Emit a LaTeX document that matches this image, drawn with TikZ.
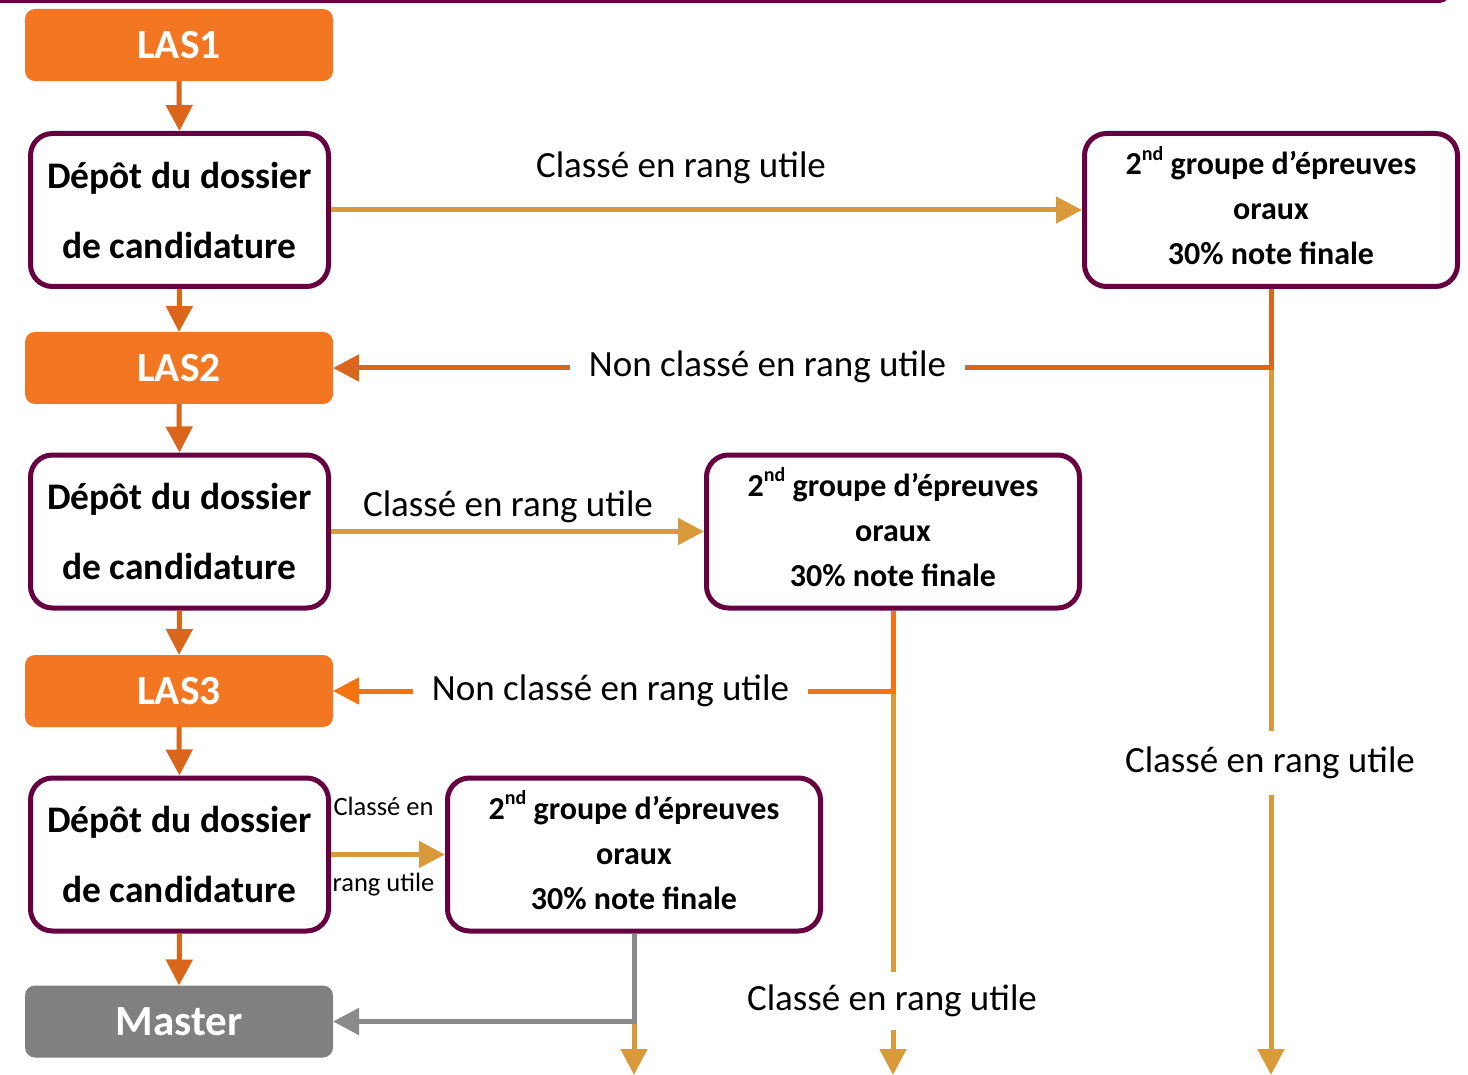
\documentclass[tikz,border=0pt]{standalone}
\usepackage{fontspec}
\setmainfont{Carlito}
\usetikzlibrary{arrows.meta}
\definecolor{lasor}{HTML}{F37722}
\definecolor{darkor}{HTML}{D9661A}
\definecolor{brightor}{HTML}{F5730F}
\definecolor{gold}{HTML}{D99A3B}
\definecolor{purp}{HTML}{660040}
\definecolor{mastergray}{HTML}{808080}
\definecolor{linegray}{HTML}{8A8A8A}
\newcommand\mysupnd{\raisebox{0.45em}{\fontsize{20}{20}\selectfont nd}}
\newcommand\oraltext{\raisebox{9pt}{2\mysupnd\ groupe d’épreuves}\\\raisebox{9pt}{oraux}\\\raisebox{9pt}{30\% note finale}}
\begin{document}
\begin{tikzpicture}[x=1pt,y=-1pt,
  las/.style={fill=lasor, rounded corners=10pt, minimum width=308pt, minimum height=72pt,
    outer sep=0pt, inner sep=0pt, text=white, font=\bfseries\fontsize{41.5}{48}\selectfont},
  depot/.style={draw=purp, line width=5pt, fill=white, rounded corners=22pt,
    minimum width=298pt, minimum height=153pt, align=center, inner sep=0pt,
    font=\bfseries\fontsize{37.5}{70}\selectfont},
  oral/.style={depot, minimum width=373pt, font=\bfseries\fontsize{32}{45}\selectfont},
  con/.style={line width=5pt, -{Triangle[length=26pt,width=26pt]}},
  lab/.style={fill=white, font=\fontsize{37}{43}\selectfont, inner xsep=19pt, inner ysep=0pt,
    text height=25pt, text depth=7pt},
  vlab/.style={lab, inner ysep=16pt},
  small/.style={font=\fontsize{26.5}{29}\selectfont, inner sep=0pt}
]
\useasboundingbox (0,0) rectangle (1468,1075);

% top frame edge
\draw[purp, line width=3pt, rounded corners=14pt] (-20,-60) -- (1452,-60) -- (1452,1.5) -- (-20,1.5);

% left column
\node[las] (las1) at (179,45) {LAS1};
\node[depot] (d1) at (179.5,210) {Dépôt du dossier\\de candidature};
\node[las] (las2) at (179,368) {LAS2};
\node[depot] (d2) at (179.5,531.5) {Dépôt du dossier\\de candidature};
\node[las] (las3) at (179,691) {LAS3};
\node[depot] (d3) at (179.5,854.5) {Dépôt du dossier\\de candidature};
\node[las, fill=mastergray, font=\bfseries\fontsize{43}{48}\selectfont] (master) at (179,1021.5) {Master};

% oral boxes
\node[oral] (b1) at (1271,210) {\oraltext};
\node[oral] (b2) at (893,531.5) {\oraltext};
\node[oral] (b3) at (634,854.5) {\oraltext};

% vertical arrows on the left
\draw[con, darkor] (las1.south) -- (d1.north);
\draw[con, darkor] (d1.south) -- (las2.north);
\draw[con, darkor] (las2.south) -- (d2.north);
\draw[con, darkor] (d2.south) -- (las3.north);
\draw[con, darkor] (las3.south) -- (d3.north);
\draw[con, darkor] (d3.south) -- (master.north);

% horizontal "classé" arrows
\draw[con, gold] (d1.east) -- (b1.west);
\draw[con, gold] (d2.east) -- (b2.west);
\draw[con, gold] (d3.east) -- (b3.west);

% junctions and ends
\coordinate (j1) at (b1.south |- las2.east);
\coordinate (j2) at (b2.south |- las3.east);
\coordinate (j3) at (b3.south |- master.east);
\coordinate (e1) at (b1.south |- 0,1075);
\coordinate (e2) at (b2.south |- 0,1075);
\coordinate (e3) at (b3.south |- 0,1075);

\draw[con, gold] (j1) -- (e1);
\draw[con, gold] (j2) -- (e2);
\draw[con, gold] (j3) -- (e3);

\draw[con, darkor] (b1.south) |- (las2.east);
\draw[con, brightor] (b2.south) |- (las3.east);
\draw[con, linegray] (b3.south) |- (master.east);

% labels
\node[font=\fontsize{37}{43}\selectfont, anchor=base, inner sep=0pt] (t1) at (681,178) {Classé en rang utile};
\node[font=\fontsize{37}{43}\selectfont, anchor=base, inner sep=0pt] (t2) at (508,516) {Classé en rang utile};
\node[lab, anchor=base] (n1) at (767.5,377) {Non classé en rang utile};
\node[lab, anchor=base] (n2) at (610.5,700) {Non classé en rang utile};
\node[vlab, anchor=base] (v1) at (1270,772) {Classé en rang utile};
\node[vlab, anchor=base, inner ysep=13pt] (v2) at (892,1010) {Classé en rang utile};
\node[small, anchor=base] (s1) at (383.5,815) {Classé en};
\node[small, anchor=base] (s2) at (383.5,891) {rang utile};
\end{tikzpicture}
\end{document}
